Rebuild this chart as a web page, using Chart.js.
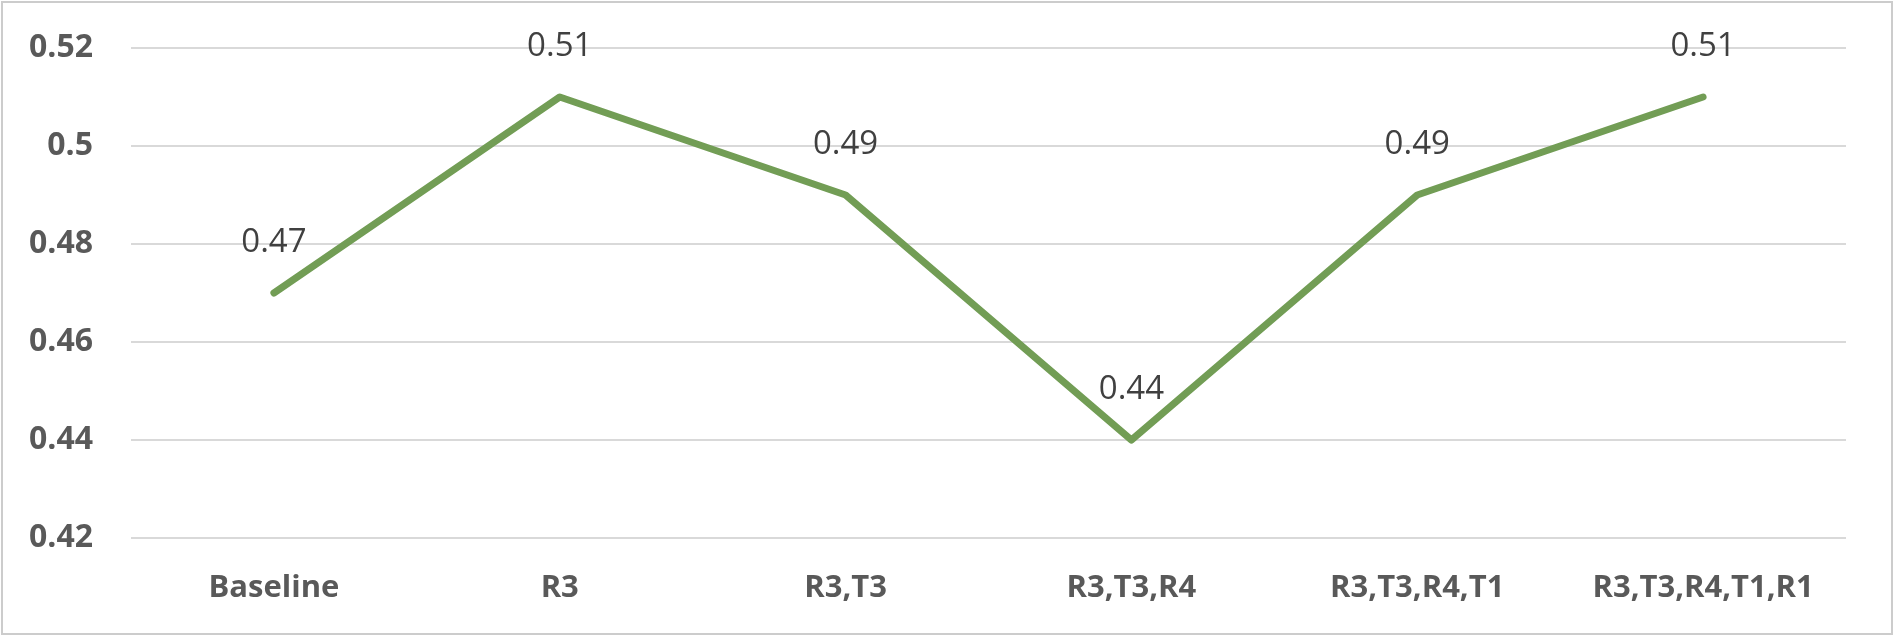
<!DOCTYPE html>
<html>
<head>
<meta charset="utf-8">
<script src="https://cdn.jsdelivr.net/npm/chart.js@4.4.1/dist/chart.umd.min.js"></script>
<style>
  html, body { margin: 0; padding: 0; background: #ffffff; }
  #wrap { position: relative; width: 1895px; height: 637px; }
  canvas { display: block; }
</style>
</head>
<body>
<div id="wrap"><canvas id="c" width="1895" height="637"></canvas></div>
<script>
const categories = ["Baseline", "R3", "R3,T3", "R3,T3,R4", "R3,T3,R4,T1", "R3,T3,R4,T1,R1"];
const scores = [0.47, 0.51, 0.49, 0.44, 0.49, 0.51];
const yTicks = [0.42, 0.44, 0.46, 0.48, 0.5, 0.52];

const frame = {
  id: 'frame',
  beforeDraw(chart) {
    const ctx = chart.ctx;
    ctx.save();
    ctx.fillStyle = '#ffffff';
    ctx.fillRect(0, 0, chart.width, chart.height);
    ctx.strokeStyle = '#cccccc';
    ctx.lineWidth = 2;
    ctx.strokeRect(2, 2, chart.width - 5, chart.height - 5);
    ctx.restore();
  }
};

const valueLabels = {
  id: 'valueLabels',
  afterDatasetsDraw(chart) {
    const ctx = chart.ctx;
    const meta = chart.getDatasetMeta(0);
    ctx.save();
    ctx.font = '33px "Open Sans"';
    ctx.fillStyle = '#404040';
    ctx.textAlign = 'center';
    ctx.textBaseline = 'middle';
    meta.data.forEach((pt, i) => {
      const v = chart.data.datasets[0].data[i];
      ctx.fillText(String(v), pt.x, pt.y - 50);
    });
    ctx.restore();
  }
};

new Chart(document.getElementById('c'), {
  type: 'line',
  data: {
    labels: categories,
    datasets: [{
      data: scores,
      borderColor: '#729d55',
      borderWidth: 7,
      borderCapStyle: 'round',
      borderJoinStyle: 'round',
      pointRadius: 0,
      tension: 0,
      fill: false
    }]
  },
  options: {
    responsive: false,
    animation: false,
    events: [],
    layout: { padding: { top: 48, right: 49, bottom: 0, left: 0 } },
    plugins: { legend: { display: false }, tooltip: { enabled: false } },
    scales: {
      x: {
        offset: true,
        grid: { display: false, drawTicks: false },
        border: { display: false },
        ticks: {
          color: '#595959',
          font: { family: 'Open Sans', size: 31, weight: 'bold' },
          padding: 32,
          maxRotation: 0,
          autoSkip: false
        },
        afterFit(scale) { scale.height = 99; scale.paddingLeft = 0; scale.paddingRight = 0; }
      },
      y: {
        min: 0.42,
        max: 0.52,
        afterBuildTicks(scale) { scale.ticks = yTicks.map(v => ({ value: v })); },
        grid: { color: '#d9d9d9', lineWidth: 2, drawTicks: false },
        border: { display: false },
        ticks: {
          color: '#595959',
          font: { family: 'Open Sans', size: 32, weight: 'bold' },
          padding: 38,
          callback: (v) => String(Math.round(v * 100) / 100)
        },
        afterFit(scale) { scale.width = 131; scale.paddingTop = 0; scale.paddingBottom = 0; }
      }
    }
  },
  plugins: [frame, valueLabels]
});
</script>
</body>
</html>
